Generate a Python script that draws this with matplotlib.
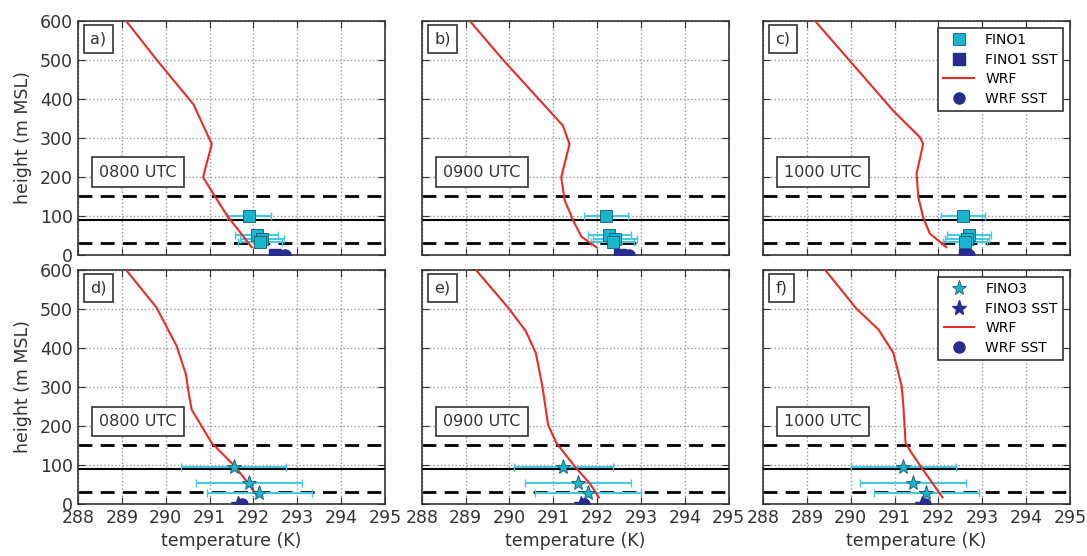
import numpy as np
import matplotlib
matplotlib.use("Agg")
import matplotlib.pyplot as plt
from matplotlib.lines import Line2D

# WRF profiles (temperature K, height m)
wrf_h = [
    [600, 500, 386, 284, 199, 102, 20],
    [600, 500, 331, 284, 199, 140, 89, 47, 20],
    [600, 369, 301, 284, 208, 148, 97, 55, 20],
    [600, 503, 404, 332, 293, 242, 156, 96, 53, 23],
    [600, 500, 443, 387, 302, 203, 156, 92, 53, 17],
    [600, 500, 447, 387, 302, 250, 156, 130, 92, 57, 17],
]
wrf_t = [
    [289.09, 289.79, 290.63, 291.05, 290.85, 291.39, 291.96],
    [289.09, 289.85, 291.22, 291.37, 291.18, 291.26, 291.45, 291.64, 291.98],
    [289.18, 290.97, 291.58, 291.65, 291.50, 291.54, 291.65, 291.80, 292.18],
    [289.09, 289.79, 290.25, 290.46, 290.51, 290.59, 291.05, 291.58, 291.88, 292.07],
    [289.23, 289.99, 290.37, 290.60, 290.75, 290.88, 291.07, 291.52, 291.83, 292.04],
    [289.41, 290.13, 290.63, 290.97, 291.16, 291.20, 291.25, 291.39, 291.62, 291.84, 292.09],
]

# mast observations
fino1_h = [100, 50, 40, 33]
fino3_h = [95, 55, 29]
obs_t = [
    [291.90, 292.07, 292.20, 292.15],
    [292.20, 292.28, 292.41, 292.35],
    [292.55, 292.70, 292.65, 292.60],
    [291.55, 291.90, 292.13],
    [291.23, 291.56, 291.79],
    [291.20, 291.42, 291.72],
]
obs_err = [
    [0.5, 0.5, 0.5, 0.5],
    [0.5, 0.5, 0.5, 0.5],
    [0.5, 0.5, 0.5, 0.5],
    [1.2, 1.2, 1.2],
    [1.12, 1.21, 1.21],
    [1.2, 1.2, 1.2],
]
obs_sst = [292.50, 292.53, 292.60, 291.65, 291.64, 291.63]
wrf_sst = [292.73, 292.72, 292.70, 291.73, 291.70, 291.70]

panel_labels = ["a)", "b)", "c)", "d)", "e)", "f)"]
times = ["0800 UTC", "0900 UTC", "1000 UTC"] * 2
rotor_lines = [30, 150]
hub_height = 90

cyan = "#1ab4cc"
cyan_bar = "#45c8e2"
navy = "#262d8e"
red = "#ec2a26"

fig = plt.figure(figsize=(10.87, 5.56), dpi=100)
lefts = [0.0718, 0.388, 0.702]
bottoms = [0.5414, 0.0935]
w, h = 0.2824, 0.4215

for i in range(6):
    row, col = divmod(i, 3)
    ax = fig.add_axes([lefts[col], bottoms[row], w, h])
    marker = "s" if row == 0 else "*"
    ms = 8 if row == 0 else 11
    heights = fino1_h if row == 0 else fino3_h
    name = "FINO1" if row == 0 else "FINO3"

    for y in rotor_lines:
        ax.axhline(y, color="k", ls=(0, (5, 3)), lw=2, zorder=2)
    ax.axhline(hub_height, color="k", lw=1.5, zorder=2)

    ax.plot(wrf_t[i], wrf_h[i], color=red, lw=1.5, zorder=4)
    ax.errorbar(obs_t[i], heights, xerr=obs_err[i], fmt="none", ecolor=cyan_bar,
                elinewidth=1.5, capsize=3, zorder=3)
    ax.plot(obs_t[i], heights, marker, color=cyan, ms=ms, mec="#135a70", mew=0.6,
            zorder=5)
    ax.plot([obs_sst[i]], [0], marker, color=navy, ms=ms, mec=navy, zorder=5)
    ax.plot([wrf_sst[i]], [0], "o", color=navy, ms=8, mec=navy, zorder=5)

    ax.set_xlim(288, 295)
    ax.set_ylim(0, 600)
    ax.set_xticks(np.arange(288, 296, 1))
    ax.set_yticks(np.arange(0, 601, 100))
    ax.grid(True, color="#999999", ls=":", lw=1)
    ax.set_axisbelow(True)
    ax.tick_params(direction="in", top=True, right=True, labelsize=12.5,
                   length=5, colors="#333333")
    for s in ax.spines.values():
        s.set_color("#333333")
        s.set_linewidth(1.2)
    if col != 0:
        ax.set_yticklabels([])
    else:
        ax.set_ylabel("height (m MSL)", fontsize=12.5, color="#333333", labelpad=6)
    if row == 0:
        ax.set_xticklabels([])
    else:
        ax.set_xlabel("temperature (K)", fontsize=12.5, color="#333333")

    ax.text(0.04, 0.955, panel_labels[i], transform=ax.transAxes, ha="left", va="top",
            fontsize=11.5, color="#333333",
            bbox=dict(boxstyle="square,pad=0.4", fc="white", ec="#333333", lw=1.2))
    ax.text(289.37, 212, times[i], ha="center", va="center", fontsize=11.5,
            color="#333333", zorder=6,
            bbox=dict(boxstyle="square,pad=0.45", fc="white", ec="#333333", lw=1.2))

    if col == 2:
        handles = [
            Line2D([], [], ls="none", marker=marker, color=cyan, ms=ms,
                   mec="#135a70", mew=0.6),
            Line2D([], [], ls="none", marker=marker, color=navy, ms=ms),
            Line2D([], [], color=red, lw=1.5),
            Line2D([], [], ls="none", marker="o", color=navy, ms=8),
        ]
        labels = [name, name + " SST", "WRF", "WRF SST"]
        leg = ax.legend(handles, labels, loc="upper right", fontsize=10, numpoints=1,
                        fancybox=False, framealpha=1, edgecolor="#333333",
                        borderaxespad=0.5, handlelength=2.2, labelspacing=0.4)
        leg.get_frame().set_linewidth(1.2)

fig.savefig("out.png", dpi=100)
